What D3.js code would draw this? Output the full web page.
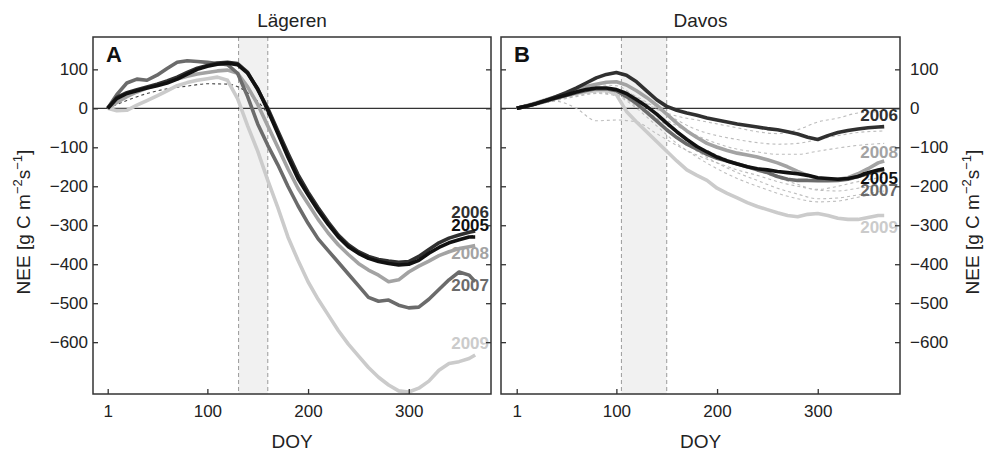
<!DOCTYPE html>
<html>
<head>
<meta charset="utf-8">
<script src="https://cdn.jsdelivr.net/npm/d3@7"></script>
<style>
body { margin: 0; background: #fff; }
text { font-family: "Liberation Sans", Arial, sans-serif; }
</style>
</head>
<body>
<div id="chart"></div>
<script>
// day of year grids
const days = [1, 10, 20, 30, 40, 50, 60, 70, 80, 90, 100, 110, 120, 130, 140, 150, 160, 170, 180, 190,
    200, 210, 220, 230, 240, 250, 260, 270, 280, 290, 300, 310, 320, 330, 340, 350, 360, 366];
const daysCoarse = [1, 20, 40, 60, 80, 100, 120, 140, 160, 180, 200, 220, 240, 260, 280, 300, 320, 340, 366];

const years = ['2005', '2006', '2007', '2008', '2009'];
const xTicks = [1, 100, 200, 300];
const yTicks = [100, 0, -100, -200, -300, -400, -500, -600];

// Lägeren cumulative NEE
const lag2005 = [0, 25, 38, 45, 52, 58, 65, 75, 88, 100, 108, 113, 116, 112, 90, 50, -5, -65, -125, -180,
    -222, -262, -298, -330, -355, -372, -385, -393, -398, -402, -400, -390, -372, -357, -345, -337, -330, -330];
const lag2006 = [0, 28, 40, 48, 55, 62, 70, 80, 92, 103, 110, 116, 118, 115, 92, 48, 0, -58, -115, -170,
    -215, -255, -292, -325, -350, -368, -380, -388, -392, -395, -393, -380, -362, -345, -333, -325, -318, -315];
const lag2007 = [0, 35, 65, 75, 72, 85, 102, 118, 122, 120, 118, 115, 112, 90, 30, -40, -95, -145, -200, -250,
    -295, -335, -365, -395, -425, -455, -485, -495, -492, -505, -512, -510, -490, -465, -440, -420, -428, -445];
const lag2008 = [0, 15, 30, 42, 52, 60, 68, 75, 82, 88, 92, 96, 98, 90, 55, 10, -45, -100, -155, -205,
    -245, -285, -320, -350, -375, -398, -415, -428, -445, -440, -420, -405, -392, -378, -368, -360, -355, -352];
const lag2009 = [0, -6, -5, 8, 20, 32, 45, 58, 66, 72, 76, 80, 72, 25, -45, -110, -185, -255, -330, -390,
    -445, -490, -530, -570, -605, -635, -665, -690, -710, -725, -728, -718, -700, -672, -655, -650, -642, -633];
const lagDashed = [
    [0, 20, 38, 50, 57, 63, 62, 40, -15, -125, -220, -295, -350, -382, -395, -398, -372, -345, -325]
];

// Davos cumulative NEE
const dav2005 = [0, 5, 12, 20, 27, 34, 42, 48, 52, 52, 48, 38, 22, 5, -15, -38, -60, -80, -98, -112,
    -125, -135, -143, -150, -155, -158, -162, -165, -168, -172, -178, -180, -182, -180, -175, -165, -158, -155];
const dav2006 = [0, 5, 12, 20, 30, 40, 52, 65, 78, 87, 92, 85, 68, 45, 22, 5, -5, -12, -18, -25,
    -30, -35, -40, -44, -48, -52, -55, -60, -66, -74, -80, -70, -62, -57, -53, -50, -48, -47];
const dav2007 = [0, 5, 11, 18, 26, 33, 40, 46, 50, 50, 45, 30, 12, -10, -32, -55, -75, -92, -105, -118,
    -128, -135, -142, -150, -158, -165, -175, -182, -185, -185, -186, -186, -185, -182, -175, -168, -160, -158];
const dav2008 = [0, 6, 14, 22, 30, 38, 47, 56, 62, 67, 68, 60, 45, 28, 8, -15, -38, -58, -75, -90,
    -100, -108, -115, -120, -125, -132, -140, -150, -162, -172, -180, -182, -182, -178, -168, -155, -140, -135];
const dav2009 = [0, 6, 13, 20, 27, 33, 38, 42, 45, 46, 35, -8, -35, -60, -85, -110, -135, -158, -172, -185,
    -205, -218, -230, -242, -252, -260, -268, -275, -278, -272, -270, -275, -282, -285, -285, -280, -275, -275];
const davDashed = [
    [0, 10, 18, 0, -32, -30, -35, -65, -95, -120, -140, -158, -172, -188, -200, -208, -200, -188, -176],
    [0, 15, 32, 48, 60, 58, 28, -2, -20, -30, -40, -50, -60, -65, -55, -35, -25, -12, -8],
    [0, 12, 28, 42, 52, 50, 30, 0, -30, -55, -70, -80, -88, -92, -90, -80, -70, -62, -58],
    [0, 12, 26, 38, 48, 45, 20, -15, -45, -70, -90, -105, -112, -118, -118, -110, -102, -95, -90],
    [0, 10, 22, 34, 42, 40, 15, -25, -62, -95, -120, -140, -160, -178, -195, -210, -212, -205, -195],
    [0, 10, 22, 32, 40, 35, 5, -35, -75, -110, -140, -165, -185, -205, -220, -232, -230, -222, -212],
    [0, 10, 20, 30, 38, 32, 0, -45, -90, -125, -155, -180, -200, -218, -232, -240, -238, -228, -218]
];

// grey shaded periods (DOY)
const lagBand = [131, 160];
const davBand = [105, 150];

// where the year labels sit (NEE units), same order as years
const lagLabelAt = [-299, -266, -453, -371, -602];
const davLabelAt = [-179, -17, -209, -111, -304];

const colors = ['#111111', '#303030', '#6b6b6b', '#a3a3a3', '#cbcbcb'];

const svg = d3.select('#chart')
    .append('svg')
    .attr('width', 984)
    .attr('height', 454);

const height = 357;

function drawPanel(opts) {
    const width = opts.width;
    const g = svg.append('g')
        .attr('transform', 'translate(' + opts.left + ',37)');

    const xScale = d3.scaleLinear().domain(opts.xDomain).range([0, width]);
    const yScale = d3.scaleLinear().domain([-733, 183]).range([height, 0]);

    g.append('clipPath').attr('id', 'clip-' + opts.id)
        .append('rect').attr('width', width).attr('height', height);

    // shaded period
    g.append('rect')
        .attr('x', xScale(opts.band[0]))
        .attr('width', xScale(opts.band[1]) - xScale(opts.band[0]))
        .attr('y', 0)
        .attr('height', height)
        .attr('fill', '#f1f1f1');
    opts.band.forEach(d => {
        g.append('line')
            .attr('x1', xScale(d)).attr('x2', xScale(d))
            .attr('y1', 0).attr('y2', height)
            .attr('stroke', '#9a9a9a')
            .attr('stroke-width', 1)
            .attr('stroke-dasharray', '4,3');
    });

    // zero line
    g.append('line')
        .attr('x1', 0).attr('x2', width)
        .attr('y1', yScale(0)).attr('y2', yScale(0))
        .attr('stroke', '#333')
        .attr('stroke-width', 1.2);

    const lines = g.append('g').attr('clip-path', 'url(#clip-' + opts.id + ')');

    const coarseLine = d3.line()
        .x((d, i) => xScale(daysCoarse[i]))
        .y(d => yScale(d))
        .curve(d3.curveMonotoneX);
    const fullLine = d3.line()
        .x((d, i) => xScale(days[i]))
        .y(d => yScale(d));

    lines.selectAll('.dashed')
        .data(opts.dashed)
        .enter()
        .append('path')
        .attr('class', 'dashed')
        .attr('d', coarseLine)
        .attr('fill', 'none')
        .attr('stroke', opts.dashColor)
        .attr('stroke-width', 1.1)
        .attr('stroke-dasharray', '3,3');

    // lightest first so the dark years stay on top
    const order = [4, 3, 2, 1, 0];
    order.forEach(i => {
        lines.append('path')
            .attr('d', fullLine(opts.series[i]))
            .attr('fill', 'none')
            .attr('stroke', colors[i])
            .attr('stroke-width', 3.6)
            .attr('stroke-linejoin', 'round');
    });

    // year labels
    years.forEach((y, i) => {
        g.append('text')
            .attr('x', width - 2)
            .attr('y', yScale(opts.labelAt[i]))
            .attr('dy', '0.36em')
            .attr('text-anchor', 'end')
            .attr('font-size', 17)
            .attr('font-weight', 'bold')
            .attr('fill', colors[i])
            .text(y);
    });

    // axes, ticks pointing inward
    const fmt = d3.format('d');
    const xAxis = d3.axisBottom(xScale).tickValues(xTicks).tickSize(-5).tickPadding(11).tickFormat(fmt);
    const yLeft = d3.axisLeft(yScale).tickValues(yTicks).tickSize(-5).tickPadding(5)
        .tickFormat(opts.labelSide === 'left' ? fmt : '');
    const yRight = d3.axisRight(yScale).tickValues(yTicks).tickSize(-5).tickPadding(10)
        .tickFormat(opts.labelSide === 'right' ? fmt : '');

    const xAxisGroup = g.append('g').attr('transform', 'translate(0,' + height + ')').call(xAxis);
    const yLeftGroup = g.append('g').call(yLeft);
    const yRightGroup = g.append('g').attr('transform', 'translate(' + width + ',0)').call(yRight);

    [xAxisGroup, yLeftGroup, yRightGroup].forEach(a => {
        a.select('.domain').remove();
        a.selectAll('line').attr('stroke', '#333').attr('stroke-width', 1.3);
        a.selectAll('text')
            .attr('font-size', 17)
            .attr('fill', '#222')
            .style('font-family', '"Liberation Sans", Arial, sans-serif');
    });

    // frame
    g.append('rect')
        .attr('width', width)
        .attr('height', height)
        .attr('fill', 'none')
        .attr('stroke', '#333')
        .attr('stroke-width', 1.5);

    // panel letter and title
    g.append('text')
        .attr('x', 13)
        .attr('y', 25)
        .attr('font-size', 22)
        .attr('font-weight', 'bold')
        .attr('fill', '#111')
        .text(opts.letter);

    g.append('text')
        .attr('x', width / 2)
        .attr('y', -10)
        .attr('text-anchor', 'middle')
        .attr('font-size', 19)
        .attr('fill', '#222')
        .text(opts.title);

    g.append('text')
        .attr('x', width / 2)
        .attr('y', height + 54)
        .attr('text-anchor', 'middle')
        .attr('font-size', 19)
        .attr('fill', '#222')
        .text('DOY');
}

function yLabel(x) {
    const t = svg.append('text')
        .attr('transform', 'translate(' + x + ',222) rotate(-90)')
        .attr('text-anchor', 'middle')
        .attr('font-size', 19)
        .attr('fill', '#222');
    t.append('tspan').text('NEE [g C m');
    t.append('tspan').attr('dy', -8).attr('font-size', 13).text('\u22122');
    t.append('tspan').attr('dy', 8).text('s');
    t.append('tspan').attr('dy', -8).attr('font-size', 13).text('\u22121');
    t.append('tspan').attr('dy', 8).text(']');
}

drawPanel({
    id: 'a', left: 93, width: 398, xDomain: [-13.6, 381.7],
    series: [lag2005, lag2006, lag2007, lag2008, lag2009],
    dashed: lagDashed, dashColor: '#444',
    band: lagBand, labelAt: lagLabelAt, labelSide: 'left',
    letter: 'A', title: 'Lägeren'
});

drawPanel({
    id: 'b', left: 501, width: 399, xDomain: [-14.6, 381.7],
    series: [dav2005, dav2006, dav2007, dav2008, dav2009],
    dashed: davDashed, dashColor: '#bdbdbd',
    band: davBand, labelAt: davLabelAt, labelSide: 'right',
    letter: 'B', title: 'Davos'
});

yLabel(30);
yLabel(979);
</script>
</body>
</html>
